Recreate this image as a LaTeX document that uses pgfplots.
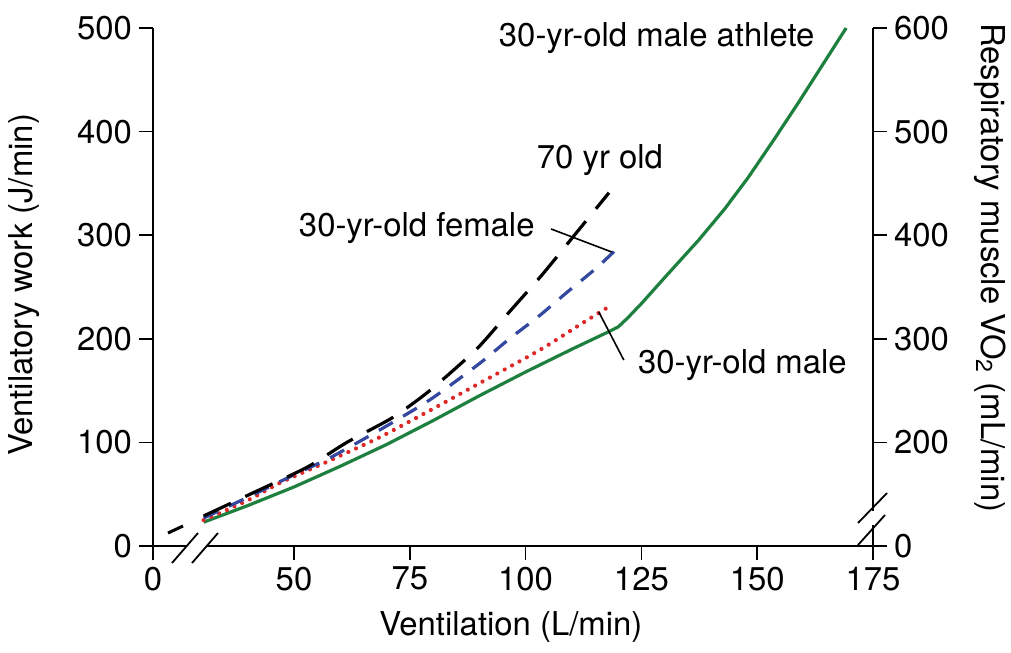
\documentclass[border=0pt]{standalone}
\usepackage{fontspec}
\setmainfont{TeX Gyre Heros}
\usepackage{pgfplots}
\pgfplotsset{compat=1.18}
\definecolor{athlete}{RGB}{30,128,62}
\definecolor{female}{RGB}{52,72,160}
\definecolor{male}{RGB}{222,40,40}

\begin{document}
\begin{tikzpicture}[font=\fontsize{16.5}{19}\selectfont, x=1bp, y=1bp]
\useasboundingbox (-76.5,-53) rectangle (429,273);
\pgfplotsset{
  every axis/.append style={width=360bp, height=259bp, scale only axis,
    xmin=19.56, xmax=175, ymin=0, ymax=500,
    tick align=outside, major tick length=7bp,
    every tick/.style={black, line width=0.8bp},
    axis line style={line width=0.8bp},
    /pgf/number format/assume math mode=true},
}
\begin{axis}[
  axis x line*=bottom, axis y line*=left,
  xtick={19.56,50,75,100,125,150,175},
  xticklabels={0,50,75,100,125,150,175},
  ytick={0,100,...,500},
  xlabel={Ventilation (L/min)},
  ylabel={Ventilatory work (J/min)},
  xlabel style={at={(rel axis cs:0.497,-0.156)}, anchor=center},
  ylabel style={at={(rel axis cs:-0.179,0.504)}, anchor=center, rotate=0},
  clip=false]
\addplot[athlete, line width=1.6bp, line join=round] coordinates {
 (30.5,23) (40,39) (50,57) (60,77) (70,98) (80,121) (90,145) (100,168) (110,190)
 (118,207) (120,211.5) (122,220) (125,234) (130,259) (137.3,295) (143,325.5)
 (148.1,356) (153.5,391.5) (158.9,428) (169.2,500)};
\addplot[male, line width=2.1bp, line cap=round, dash pattern=on 0.01bp off 4.2bp, smooth, tension=0.4] coordinates {
 (30.5,25) (40,44) (47,61) (57,81) (68.5,105) (79,130) (90,157) (103,189) (111.5,213) (117.6,230)};
\addplot[female, line width=1.6bp, dash pattern=on 8bp off 6bp, smooth, tension=0.4] coordinates {
 (30.5,27) (40,47) (50.6,70) (57.7,85) (68.5,112) (79.3,141) (90,176) (96.5,200)
 (102.9,222) (108.7,244) (115.2,268) (119.5,286)};
\addplot[black, line width=1.6bp, dash pattern=on 15bp off 8bp, smooth, tension=0.4] coordinates {
 (30.5,29) (41,51) (52.8,76) (61.4,100) (71.3,124) (79.3,150) (89.4,190) (96.5,226)
 (103.6,262) (110.9,302) (118,341)};
\node at (axis cs:128.3,490.3) {30-yr-old male athlete};
\node at (axis cs:116.05,372.6) {70 yr old};
\node at (axis cs:76.5,307) {30-yr-old female};
\node at (axis cs:146.8,174.7) {30-yr-old male};
\draw[black, line width=0.8bp] (axis cs:105.5,306) -- (axis cs:118.6,283.8);
\draw[black, line width=0.8bp] (axis cs:115.8,225.9) -- (axis cs:121.2,179.5);
\end{axis}
\begin{axis}[
  axis x line=none, axis y line*=right,
  ytick={0,100,...,500},
  yticklabels={0,200,300,400,500,600},
  ylabel={Respiratory muscle VO\textsubscript{2} (mL/min)},
  ylabel style={at={(rel axis cs:1.1625,0.537)}, anchor=center, rotate=180}]
\end{axis}
% axis breaks
\fill[white] (15.4,-1.6) -- (25.4,-1.6) -- (28.3,1.6) -- (18.3,1.6) -- cycle;
\draw[black, line width=0.9bp] (9.5,-8.5) -- (22.5,6.5);
\draw[black, line width=0.9bp] (19.5,-8.5) -- (32.5,6.5);
\draw[black, line width=1.5bp] (7.5,6.5) -- (15,10);
\fill[white] (358.6,10.6) rectangle (361.4,17.6);
\draw[black, line width=0.9bp] (352.5,11.5) -- (367,26.5);
\draw[black, line width=0.9bp] (352.5,0.5) -- (366,15.5);
\end{tikzpicture}
\end{document}
